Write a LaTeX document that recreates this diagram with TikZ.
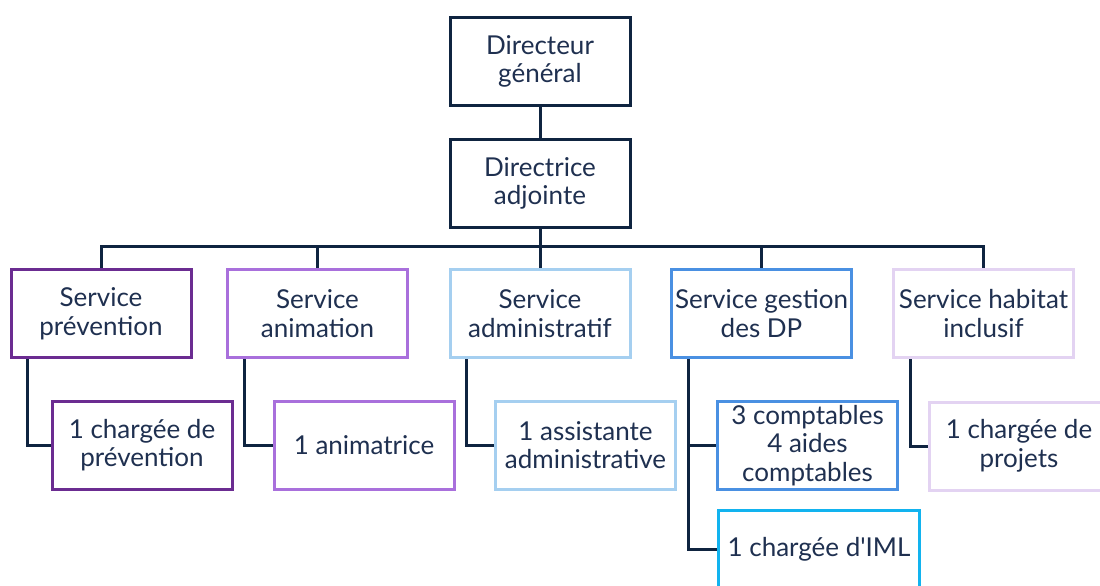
\documentclass[tikz,border=0pt]{standalone}
\usepackage{fontspec}
\setmainfont{Lato}
\newfontfamily\nomap{Lato}
\definecolor{txt}{HTML}{1F3050}
\definecolor{navy}{HTML}{0F2440}
\definecolor{cPrev}{HTML}{6B2C91}
\definecolor{cAnim}{HTML}{A970DC}
\definecolor{cAdm}{HTML}{A5CFF0}
\definecolor{cGest}{HTML}{4A90E2}
\definecolor{cHab}{HTML}{E3D3F2}
\definecolor{cIml}{HTML}{12B3EF}
\tikzset{
  box/.style={draw, line width=3pt, fill=white, minimum width=180pt, minimum height=88pt,
    inner sep=1pt, align=center, text=txt, font=\fontsize{26}{28.5}\selectfont},
  link/.style={draw=navy, line width=3pt}
}
\begin{document}
\begin{tikzpicture}[x=1pt,y=-1pt]
\useasboundingbox (0,0) rectangle (1100,586);
\clip (0,0) rectangle (1100,586);
\fill[white] (0,0) rectangle (1100,586);
\node[box, draw=navy] (dg) at (540,61.5) {Directeur\\général};
\node[box, draw=navy] (da) at (540,183.5) {Directrice\\adjointe};
\node[box, draw=cPrev] (s1) at (101,313.5) {Service\\prévention};
\node[box, draw=cAnim] (s2) at (317.5,313.5) {Service\\animation};
\node[box, draw=cAdm] (s3) at (540,313.5) {Service\\administratif};
\node[box, draw=cGest] (s4) at (761.5,313.5) {Service gestion\\des DP};
\node[box, draw=cHab] (s5) at (983.5,313.5) {Service habitat\\inclusif};
\node[box, draw=cPrev] (c1) at (142,445) {1 chargée de\\prévention};
\node[box, draw=cAnim] (c2) at (364,445) {1 animatrice};
\node[box, draw=cAdm] (c3) at (585.5,445) {1 assistante\\administrative};
\node[box, draw=cGest] (c4) at (807.5,445.5) {3 comptables\\4 aides\\comptables};
\node[box, draw=cIml, minimum width=201pt, minimum height=78pt] (c5) at (819,549) {1 chargée d{\nomap '}IML};
\node[box, draw=cHab] (c6) at (1019,446) {1 chargée de\\projets};
\draw[link] (da.north) -- (dg.south);
\foreach \s in {s1,s2,s3,s4,s5}{
  \draw[link] (da.south) -- ++(0,17) -| (\s.north);
}
\draw[link] ([xshift=18pt]s1.south west) |- (c1.west);
\draw[link] ([xshift=18pt]s2.south west) |- (c2.west);
\draw[link] ([xshift=18pt]s3.south west) |- (c3.west);
\draw[link] ([xshift=18pt]s4.south west) |- (c4.west);
\draw[link] ([xshift=18pt]s4.south west) |- (c5.west);
\draw[link] ([xshift=18pt]s5.south west) |- (c6.west);
\end{tikzpicture}
\end{document}
